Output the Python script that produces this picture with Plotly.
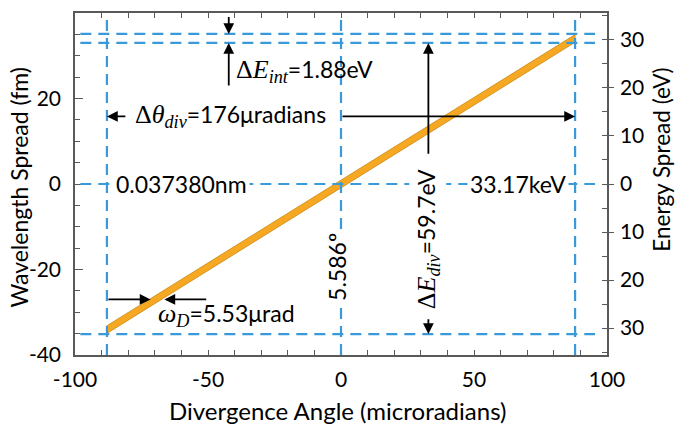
import plotly.graph_objects as go

# ---- data ----
theta_band = [-88.0, 88.0]          # divergence angle end points (microradians)
lam_center = [-34.05, 34.05]        # wavelength spread at band ends (fm)
lam_half = 0.9                      # half thickness of band (fm)
theta_lines = [-88.0, 0.0, 88.0]    # vertical dashed lines
lam_lines = [35.1, 33.0, 0.0, -35.1]  # horizontal dashed lines (fm)
energy_range = 35.6                 # eV corresponding to 40 fm
x_ticks = list(range(-100, 101, 10))
x_labels = [str(v) if v % 50 == 0 else "" for v in x_ticks]
y_ticks = [-40, -20, 0, 20, 40]
y_labels = [str(v) for v in y_ticks]
e_ticks = [-30, -20, -10, 0, 10, 20, 30]
e_labels = [str(abs(v)) for v in e_ticks]

FONT = "Lato"
SERIF = "Liberation Serif"
BLUE = "#3A9AD9"
AXC = "#595959"

fig = go.Figure()

# band polygon
bx = [theta_band[0], theta_band[1], theta_band[1], theta_band[0], theta_band[0]]
by = [lam_center[0] - lam_half, lam_center[1] - lam_half, lam_center[1] + lam_half,
      lam_center[0] + lam_half, lam_center[0] - lam_half]
fig.add_trace(go.Scatter(x=bx, y=by, fill="toself", fillcolor="#F7A823",
                         line=dict(color="#C98A14", width=0.8), mode="lines",
                         hoverinfo="skip", showlegend=False))
# invisible trace for energy axis
fig.add_trace(go.Scatter(x=theta_band, y=[-energy_range * 0.9, energy_range * 0.9],
                         yaxis="y2", mode="markers", marker=dict(opacity=0),
                         hoverinfo="skip", showlegend=False))

# dashed lines
for t in theta_lines:
    fig.add_shape(type="line", x0=t, x1=t, y0=-40, y1=40, xref="x", yref="y",
                  line=dict(color=BLUE, width=2.2, dash="11px,7px"))
for l in lam_lines:
    fig.add_shape(type="line", x0=-98, x1=95.5, y0=l, y1=l, xref="x", yref="y",
                  line=dict(color=BLUE, width=2.2, dash="11px,7px"))

def arrow(hx, hy, tx, ty):
    fig.add_annotation(x=hx, y=hy, ax=tx, ay=ty, xref="x", yref="y", axref="x", ayref="y",
                       text="", showarrow=True, arrowhead=2, arrowsize=1.2, arrowwidth=1.8,
                       arrowcolor="black", standoff=0, startstandoff=0)

# arrows
arrow(-42.2, lam_lines[0], -42.2, 39.4)
arrow(-42.2, lam_lines[1], -42.2, 22.7)
arrow(theta_lines[0], 15.8, -80.5, 15.8)
arrow(theta_lines[2], 15.8, 0.0, 15.8)
arrow(32.85, lam_lines[1], 32.85, 6.7)
arrow(32.85, lam_lines[3], 32.85, -31.3)
arrow(-71.6, -27.0, theta_lines[0], -27.0)
arrow(-66.4, -27.0, -50.1, -27.0)

def sfont(s):
    return f'<span style="font-family:{SERIF};font-size:26px">{s}</span>'

def txt(x, y, s, xanchor="left", angle=0, bg=None):
    fig.add_annotation(x=x, y=y, xref="x", yref="y", text=s, showarrow=False,
                       xanchor=xanchor, yanchor="middle", textangle=angle,
                       font=dict(family=FONT, size=23, color="black"),
                       bgcolor=bg, borderpad=2)

txt(-40.7, 26.5, sfont("Δ<i>E</i><sub><i>int</i></sub>") + "=1.88eV")
txt(-78.6, 15.8, sfont("Δ<i>θ</i><sub><i>div</i></sub>") + "=176μradians")
txt(-70.0, -30.6, sfont("<i>ω</i><sub><i>D</i></sub>") + "=5.53μrad")
txt(-85.7, 0, "0.037380nm", bg="white")
txt(47.5, 0, "33.17keV", bg="white")
txt(-1.3, -19.5, "5.586º", xanchor="center", angle=-90, bg="white")
txt(32.5, -12.8, sfont("Δ<i>E</i><sub><i>div</i></sub>") + "=59.7eV", xanchor="center", angle=-90, bg="white")

# axis titles
fig.add_annotation(x=-0.105, y=0.49, xref="paper", yref="paper", text="Wavelength Spread (fm)",
                   textangle=-90, showarrow=False, font=dict(family=FONT, size=23, color="black"),
                   xanchor="center", yanchor="middle")
fig.add_annotation(x=1.102, y=0.572, xref="paper", yref="paper", text="Energy Spread (eV)",
                   textangle=-90, showarrow=False, font=dict(family=FONT, size=22.5, color="black"),
                   xanchor="center", yanchor="middle")
fig.add_annotation(x=0.494, y=-0.162, xref="paper", yref="paper", text="Divergence Angle (microradians)",
                   showarrow=False, font=dict(family=FONT, size=24, color="black"),
                   xanchor="center", yanchor="middle")

TK = dict(family=FONT, size=21, color="black")
fig.update_layout(
    width=676, height=424,
    margin=dict(l=75, r=69, t=13, b=69),
    paper_bgcolor="white", plot_bgcolor="white",
    showlegend=False,
    xaxis=dict(range=[-100, 100], tickvals=x_ticks, ticktext=x_labels, ticks="inside",
               ticklen=5, tickwidth=1.2, tickcolor=AXC, showline=True, linecolor=AXC,
               linewidth=1.5, mirror="ticks", showgrid=False, zeroline=False,
               tickfont=TK, ticklabelstandoff=5),
    yaxis=dict(range=[-40, 40], tickvals=y_ticks, ticktext=y_labels, ticks="inside", ticklen=8,
               tickwidth=1.2, tickcolor=AXC, showline=True, linecolor=AXC, linewidth=1.5,
               showgrid=False, zeroline=False, tickfont=TK, ticklabelstandoff=8,
               minor=dict(dtick=5, ticks="inside", ticklen=5, tickcolor=AXC, tickwidth=1.2)),
    yaxis2=dict(range=[-energy_range, energy_range], overlaying="y", side="right",
                tickvals=e_ticks, ticktext=e_labels, ticks="outside", ticklen=5, tickwidth=1.2,
                tickcolor=AXC, showline=True, linecolor=AXC, linewidth=1.5, showgrid=False,
                zeroline=False, tickfont=TK, ticklabelstandoff=2,
                minor=dict(dtick=5, ticks="inside", ticklen=5, tickcolor=AXC, tickwidth=1.2)),
)

fig.write_html("out.html")
